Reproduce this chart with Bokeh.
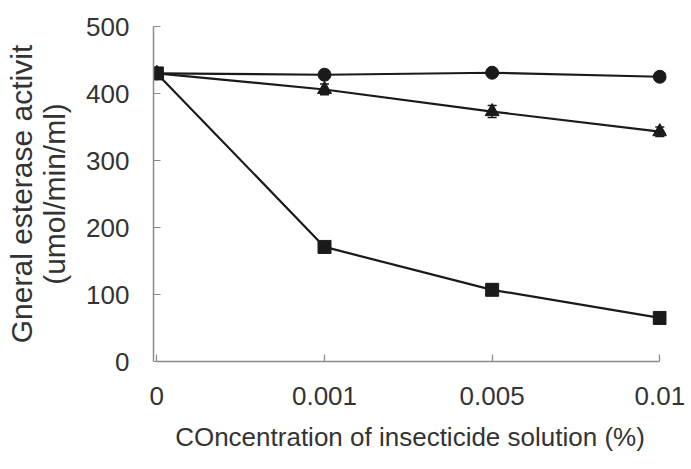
from bokeh.plotting import figure
from bokeh.embed import file_html
from bokeh.resources import INLINE
from bokeh.models import ColumnDataSource, Whisker, FixedTicker, Range1d, TeeHead

# ---- data ----
concentrations = ["0", "0.001", "0.005", "0.01"]
circle_vals = [430, 428, 431, 425]
circle_err = [5, 5, 5, 5]
triangle_vals = [430, 406, 373, 343]
triangle_err = [6, 8, 9, 7]
square_vals = [430, 171, 107, 65]
square_err = [5, 5, 6, 6]

xpos = list(range(len(concentrations)))

FONT = "Liberation Sans"
INK = "#1a1a1a"
TXT = "#333333"

p = figure(width=691, height=469, output_backend="svg", toolbar_location=None,
           x_range=Range1d(-0.02, 3.04), y_range=Range1d(0, 500),
           min_border_left=153, min_border_right=25, min_border_top=26, min_border_bottom=108)
p.outline_line_color = None
p.xgrid.visible = False
p.ygrid.visible = False
p.background_fill_color = "white"
p.border_fill_color = "white"

series = [
    (circle_vals, circle_err, "circle", 13),
    (triangle_vals, triangle_err, "triangle", 14),
    (square_vals, square_err, "square", 13),
]

for vals, err, marker, size in series:
    src = ColumnDataSource(dict(x=xpos, y=vals,
                                lo=[v - e for v, e in zip(vals, err)],
                                hi=[v + e for v, e in zip(vals, err)]))
    p.line("x", "y", source=src, line_color=INK, line_width=2.2)
    w = Whisker(source=src, base="x", lower="lo", upper="hi", line_color=INK, line_width=1.5)
    w.upper_head = TeeHead(size=9, line_color=INK, line_width=1.5)
    w.lower_head = TeeHead(size=9, line_color=INK, line_width=1.5)
    p.add_layout(w)
    p.scatter("x", "y", source=src, marker=marker, size=size, fill_color=INK, line_color=INK)

# axes
p.xaxis.ticker = FixedTicker(ticks=xpos)
p.xaxis.major_label_overrides = {i: c for i, c in zip(xpos, concentrations)}
p.xaxis.bounds = (0, 3)
p.xaxis.axis_label = "COncentration of insecticide solution (%)"
p.yaxis.ticker = FixedTicker(ticks=[0, 100, 200, 300, 400, 500])
p.yaxis.axis_label = "Gneral esterase activit\n(umol/min/ml)"

for ax in (p.xaxis[0], p.yaxis[0]):
    ax.axis_line_color = "#8a8a8a"
    ax.axis_line_width = 1.5
    ax.major_tick_line_color = "#8a8a8a"
    ax.major_tick_line_width = 1.2
    ax.major_tick_in = 7
    ax.major_tick_out = 0
    ax.minor_tick_line_color = None
    ax.major_label_text_font = FONT
    ax.major_label_text_font_size = "26px"
    ax.major_label_text_color = TXT
    ax.axis_label_text_font = FONT
    ax.axis_label_text_font_style = "normal"
    ax.axis_label_text_color = TXT

p.xaxis.axis_label_text_font_size = "26px"
p.yaxis.axis_label_text_font_size = "30px"
p.yaxis.axis_label_text_line_height = 1.0

p.xaxis.major_label_standoff = 25
p.xaxis.axis_label_standoff = 14
p.yaxis.major_label_standoff = 24
p.yaxis.axis_label_standoff = 12

open("out.html", "w").write(file_html(p, INLINE))
